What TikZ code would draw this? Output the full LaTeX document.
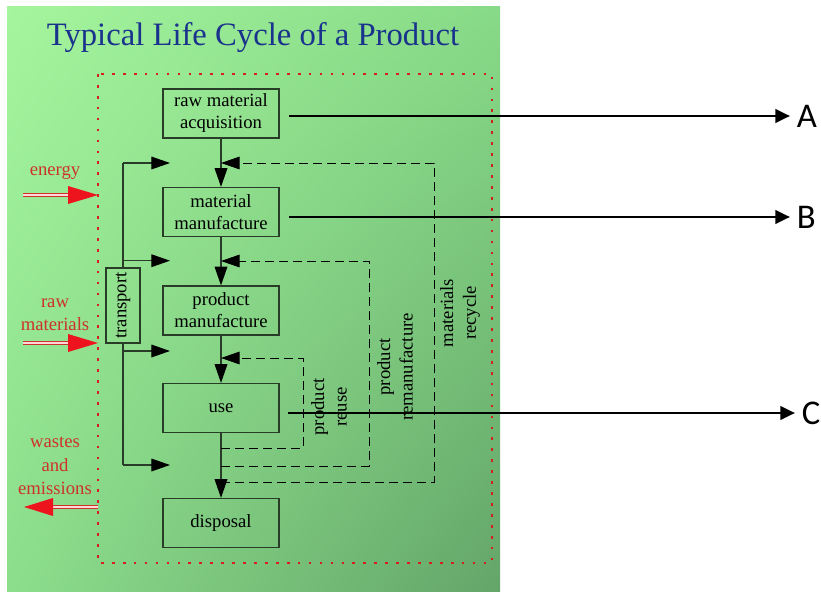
\documentclass[tikz,border=0pt]{standalone}
\usepackage{fontspec}
\setmainfont{Liberation Serif}
\newfontfamily\letterfont{Carlito}
\usetikzlibrary{arrows.meta,shadings}

\definecolor{titleblue}{RGB}{25,50,140}
\definecolor{labelred}{RGB}{205,50,40}
\definecolor{arrowred}{RGB}{238,20,30}
\definecolor{framered}{RGB}{215,30,30}
\definecolor{boxline}{RGB}{40,60,40}
\definecolor{greenUL}{RGB}{165,245,158}
\definecolor{greenUR}{RGB}{135,218,135}
\definecolor{greenLL}{RGB}{140,222,140}
\definecolor{greenLR}{RGB}{100,165,105}

\begin{document}
\begin{tikzpicture}[x=0.75pt,y=-0.75pt,
    stage/.style={draw=boxline, line width=0.9pt, minimum width=87pt, minimum height=36.75pt,
      align=center, inner sep=1pt, font=\fontsize{14}{16.5}\selectfont},
    flow/.style={draw=boxline, line width=0.9pt, -{Triangle[length=14pt,width=9.5pt,black]}},
    back/.style={draw=black, line width=0.7pt, dash pattern=on 6.5pt off 4pt,
      -{Triangle[length=14pt,width=9.5pt]}},
    note/.style={rotate=90, align=center, inner sep=0pt, font=\fontsize{14}{17}\selectfont},
    side/.style={text=labelred, align=center, inner sep=0pt, font=\fontsize{14}{17.5}\selectfont},
    supply/.style={draw=labelred, double=red!15, double distance=1.6pt, line width=0.8pt},
    pointer/.style={draw=black, line width=2.2pt, -{Triangle[length=11pt,width=10pt]}},
    letter/.style={anchor=west, inner sep=5pt, font=\letterfont\fontsize{26}{28}\selectfont}]

  \useasboundingbox (0,0) rectangle (821,592);

  % panel
  \shade[upper left=greenUL, upper right=greenUR,
         lower left=greenLL, lower right=greenLR] (7,7) rectangle (500,591);
  \node[text=titleblue, font=\fontsize{24.5}{26}\selectfont] (title) at (253,38)
    {Typical Life Cycle of a Product};
  \draw[framered, line width=2pt, dash pattern=on 2pt off 6.2pt] (98,74) rectangle (492,563);

  % stages
  \node[stage] (raw) at (221,113.5) {raw material\\acquisition};
  \node[stage] (matmf) at (221,212) {material\\manufacture};
  \node[stage] (prodmf) at (221,310.5) {product\\manufacture};
  \node[stage] (use) at (221,408) {use};
  \node[stage] (disposal) at (221,523) {disposal};

  \draw[flow] (raw) -- (matmf);
  \draw[flow] (matmf) -- (prodmf);
  \draw[flow] (prodmf) -- (use);
  \draw[flow] (use) -- (disposal);

  % transport
  \node[draw=boxline, line width=0.9pt, rotate=90, minimum width=56.25pt, minimum height=25.5pt,
    inner sep=0pt, font=\fontsize{14}{16}\selectfont] (transport) at (123,305.5) {transport};
  \coordinate (ttop) at (123,163);
  \coordinate (tbot) at (123,465);
  \foreach \y [count=\i] in {163,260.7,351,465}
    \coordinate (tend\i) at (170,\y);
  \draw[boxline, line width=0.9pt] (transport) -- (ttop);
  \draw[boxline, line width=0.9pt] (transport) -- (tbot);
  \draw[flow] (ttop) -- (tend1);
  \draw[flow] (transport |- tend2) -- (tend2);
  \draw[flow] (transport |- tend3) -- (tend3);
  \draw[flow] (tbot) -- (tend4);

  % loops back
  \coordinate (reuseout) at (221,448);
  \coordinate (reusein) at (221,358);
  \coordinate (remout) at (221,466);
  \coordinate (remin) at (221,261);
  \coordinate (recout) at (221,482);
  \coordinate (recin) at (221,163);
  \draw[back] (reuseout) -- ++(82,0) |- (reusein);
  \draw[back] (remout) -- ++(148,0) |- (remin);
  \draw[back] (recout) -- ++(213,0) |- (recin);

  \node[note] (reuse) at (329,407) {product\\reuse};
  \node[note] (reman) at (395,367) {product\\remanufacture};
  \node[note] (recycle) at (460,313) {materials\\recycle};

  % inputs and outputs
  \node[side] (energy) at (55,173) {energy};
  \node[side] (rawin) at (55,315) {raw\\materials};
  \node[side] (wastes) at (55,466) {wastes\\and\\emissions};
  \draw[supply] (23,195) -- (71,195);
  \fill[arrowred] (68,186) -- (98,195) -- (68,204) -- cycle;
  \draw[supply] (23,343) -- (71,343);
  \fill[arrowred] (68,334) -- (98,343) -- (68,352) -- cycle;
  \draw[supply] (98,507) -- (50,507);
  \fill[arrowred] (53,498) -- (24,507) -- (53,516) -- cycle;

  % markers
  \node[letter] (A) at (790,116) {A};
  \node[letter] (B) at (790,217) {B};
  \node[letter] (C) at (795,413) {C};
  \coordinate (astart) at (289,116);
  \coordinate (bstart) at (289,217);
  \coordinate (cstart) at (288,413);
  \draw[pointer] (astart) -- (A);
  \draw[pointer] (bstart) -- (B);
  \draw[pointer] (cstart) -- (C);
\end{tikzpicture}
\end{document}
